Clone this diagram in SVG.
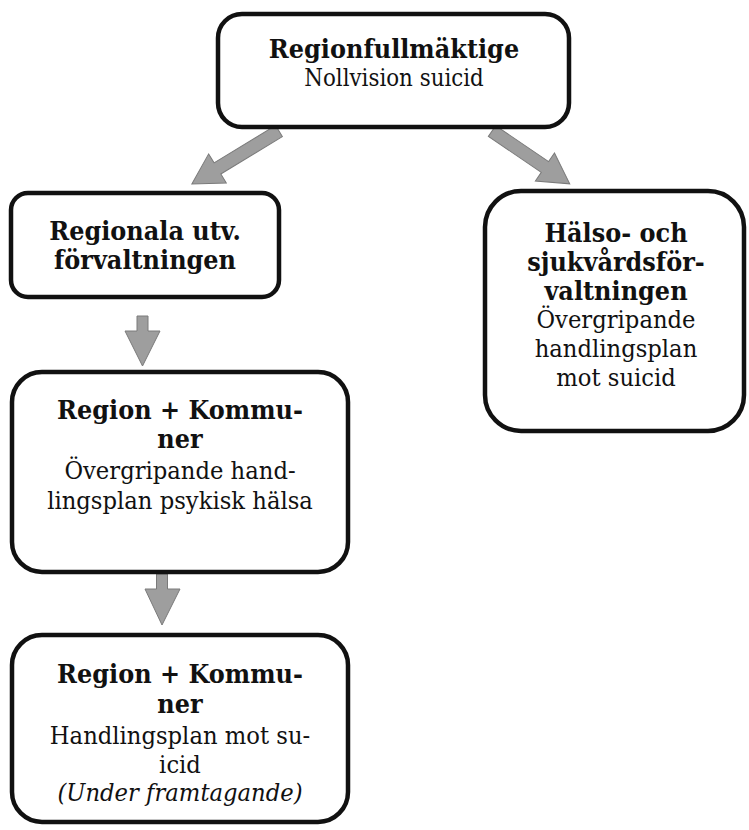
<svg xmlns="http://www.w3.org/2000/svg" width="749" height="830" viewBox="0 0 749 830">
<style>
.box{fill:#ffffff;stroke:#111111;stroke-width:4.5}
.arr{fill:#9e9e9e;stroke:#7a7a7a;stroke-width:1}
text{font-family:"DejaVu Serif","Liberation Serif",serif;font-size:22.7px;fill:#111111;text-anchor:middle}
.b{font-weight:bold;font-size:24px}
.i{font-style:italic}
.s{font-size:21.4px}
</style>
<rect width="749" height="830" fill="#ffffff"/>
<g id="connectors">
<polygon class="arr" points="0,-6.5 72,-6.5 72,-17 102,0 72,17 72,6.5 0,6.5" transform="translate(279,131) rotate(148.7)"/>
<polygon class="arr" points="0,-6.5 64,-6.5 64,-17 94,0 64,17 64,6.5 0,6.5" transform="translate(492,131) rotate(34.2)"/>
<polygon class="arr" points="137,316 148,316 148,331 160,331 142.5,366 125,331 137,331"/>
<polygon class="arr" points="156.5,574 167.5,574 167.5,589 180,589 162,625 145,589 156.5,589"/>
</g>
<g id="n-regionfullmaktige">
<rect class="box" x="218" y="14" width="351" height="113" rx="24"/>
<text transform="translate(394 58) scale(1 1.1)" class="b">Regionfullmäktige</text>
<text transform="translate(394 86) scale(1 1.1)" class="s">Nollvision suicid</text>
</g>
<g id="n-regionala">
<rect class="box" x="11" y="193" width="268" height="104" rx="17"/>
<text transform="translate(145 240) scale(1 1.1)" class="b">Regionala utv.</text>
<text transform="translate(145 269) scale(1 1.1)" class="b">förvaltningen</text>
</g>
<g id="n-halso">
<rect class="box" x="485" y="191" width="259" height="240" rx="36"/>
<text transform="translate(616 242) scale(1 1.1)" class="b">Hälso- och</text>
<text transform="translate(616 271) scale(1 1.1)" class="b">sjukvårdsför-</text>
<text transform="translate(616 300) scale(1 1.1)" class="b">valtningen</text>
<text transform="translate(616 328) scale(1 1.1)">Övergripande</text>
<text transform="translate(616 357) scale(1 1.1)">handlingsplan</text>
<text transform="translate(616 386) scale(1 1.1)">mot suicid</text>
</g>
<g id="n-region-kommuner-1">
<rect class="box" x="12" y="372" width="336" height="200" rx="30"/>
<text transform="translate(180 419) scale(1 1.1)" class="b">Region + Kommu-</text>
<text transform="translate(180 448) scale(1 1.1)" class="b">ner</text>
<text transform="translate(180 479) scale(1 1.1)">Övergripande hand-</text>
<text transform="translate(180 509) scale(1 1.1)">lingsplan psykisk hälsa</text>
</g>
<g id="n-region-kommuner-2">
<rect class="box" x="12" y="635" width="336" height="187" rx="30"/>
<text transform="translate(180 683) scale(1 1.1)" class="b">Region + Kommu-</text>
<text transform="translate(180 713) scale(1 1.1)" class="b">ner</text>
<text transform="translate(180 744) scale(1 1.1)">Handlingsplan mot su-</text>
<text transform="translate(180 773) scale(1 1.1)">icid</text>
<text transform="translate(180 801) scale(1 1.1)" class="i">(Under framtagande)</text>
</g>
</svg>
